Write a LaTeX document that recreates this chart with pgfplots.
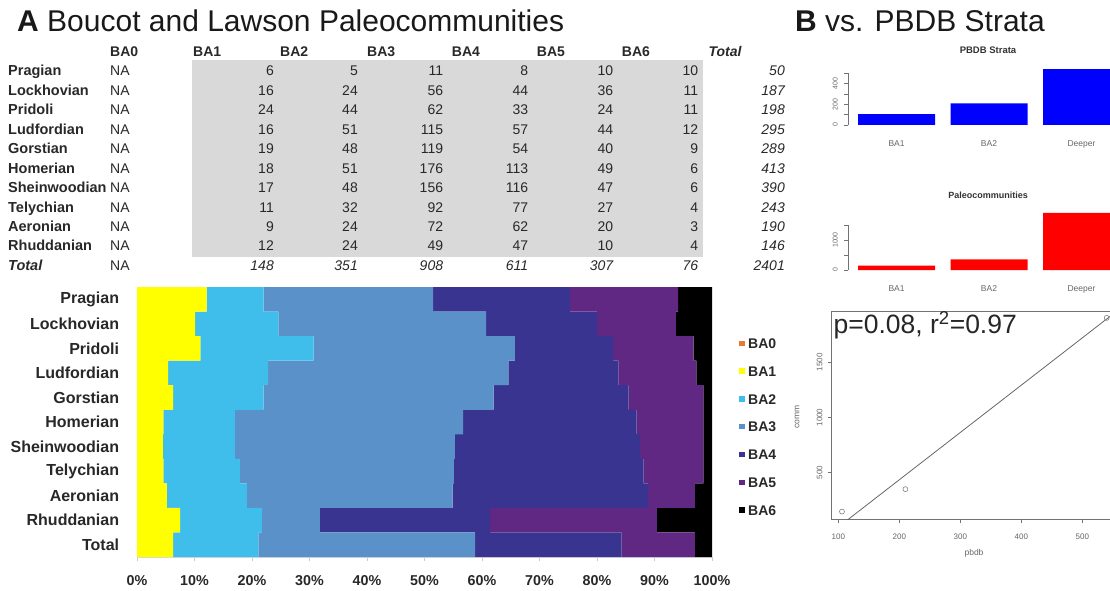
\documentclass[border=0pt]{standalone}
\usepackage{fontspec}
\setmainfont{Liberation Sans}
\usepackage{pgfplots}
\pgfplotsset{compat=1.18}

\definecolor{cBAzero}{RGB}{232,122,46}
\definecolor{cBAone}{RGB}{255,255,0}
\definecolor{cBAtwo}{RGB}{64,190,235}
\definecolor{cBAthree}{RGB}{90,145,200}
\definecolor{cBAfour}{RGB}{58,52,145}
\definecolor{cBAfive}{RGB}{96,40,130}
\definecolor{cBAsix}{RGB}{0,0,0}
\definecolor{tblgray}{RGB}{217,217,217}
\definecolor{txt}{RGB}{40,40,40}

\newcommand\fs[1]{\fontsize{#1}{#1}\selectfont}

\pgfplotsset{
  sqlegend/.style={legend image code/.code={\fill[##1] (0pt,-2.5pt) rectangle (5.5pt,3pt); \path (9pt,0pt);}},
}

\tikzset{
  lab/.style={anchor=base west, inner sep=0pt, font=\fs{14.5}\bfseries, text=txt},
  tv/.style={anchor=base east, inner sep=0pt, font=\fs{14}, text=txt},
  hd/.style={anchor=base west, inner sep=0pt, font=\fs{14}\bfseries, text=txt},
}

\newcommand\trow[9]{%
  \node[lab] at (8,#1) {#2};
  \node[tv,anchor=base west] at (110,#1) {NA};
  \node[tv] at (274,#1) {#3};
  \node[tv] at (358,#1) {#4};
  \node[tv] at (443.3,#1) {#5};
  \node[tv] at (528.3,#1) {#6};
  \node[tv] at (613.3,#1) {#7};
  \node[tv] at (698.3,#1) {#8};
  \node[tv] at (785,#1) {\itshape #9};
}

\begin{document}
\begin{tikzpicture}[x=1pt,y=1pt]
\useasboundingbox (0,0) rectangle (1110,590);
\clip (0,0) rectangle (1110,590);

% titles
\node[anchor=base west, inner sep=0pt, font=\fs{30}, text=black!90] at (17,558.3) {\textbf{A} Boucot and Lawson Paleocommunities};
\node[anchor=base west, inner sep=0pt, font=\fs{30}, text=black!90] at (795,558.3) {\textbf{B} vs. PBDB Strata};

% table
\fill[tblgray] (191.7,530) rectangle (703.3,332.7);
\node[hd] at (110,533.1) {BA0};
\node[hd] at (193,533.1) {BA1};
\node[hd] at (280,533.1) {BA2};
\node[hd] at (367,533.1) {BA3};
\node[hd] at (451.7,533.1) {BA4};
\node[hd] at (536.7,533.1) {BA5};
\node[hd] at (621.7,533.1) {BA6};
\node[hd] at (708.3,533.1) {\itshape Total};
\trow{514.1}{Pragian}{6}{5}{11}{8}{10}{10}{50}
\trow{494.65}{Lockhovian}{16}{24}{56}{44}{36}{11}{187}
\trow{475.2}{Pridoli}{24}{44}{62}{33}{24}{11}{198}
\trow{455.75}{Ludfordian}{16}{51}{115}{57}{44}{12}{295}
\trow{436.3}{Gorstian}{19}{48}{119}{54}{40}{9}{289}
\trow{416.85}{Homerian}{18}{51}{176}{113}{49}{6}{413}
\trow{397.4}{Sheinwoodian}{17}{48}{156}{116}{47}{6}{390}
\trow{377.95}{Telychian}{11}{32}{92}{77}{27}{4}{243}
\trow{358.5}{Aeronian}{9}{24}{72}{62}{20}{3}{190}
\trow{339.05}{Rhuddanian}{12}{24}{49}{47}{10}{4}{146}
\node[lab] at (8,319.6) {\itshape Total};
\node[tv,anchor=base west] at (110,319.6) {NA};
\node[tv] at (274,319.6) {\itshape 148};
\node[tv] at (358,319.6) {\itshape 351};
\node[tv] at (443.3,319.6) {\itshape 908};
\node[tv] at (528.3,319.6) {\itshape 611};
\node[tv] at (613.3,319.6) {\itshape 307};
\node[tv] at (698.3,319.6) {\itshape 76};
\node[tv] at (785,319.6) {\itshape 2401};

% main stacked bar chart
\begin{axis}[at={(137pt,33pt)}, anchor=south west, scale only axis,
  width=575pt, height=270pt,
  xbar stacked, bar width=24.6pt,
  xmin=0, xmax=100, ymin=-0.5, ymax=10.5,
  xtick={0,10,...,100},
  xticklabels={0\%,10\%,20\%,30\%,40\%,50\%,60\%,70\%,80\%,90\%,100\%},
  ytick={0,...,10},
  yticklabels={Total,Rhuddanian,Aeronian,Telychian,Sheinwoodian,Homerian,Gorstian,Ludfordian,Pridoli,Lockhovian,Pragian},
  axis x line*=bottom, axis y line*=left,
  axis line style={draw=gray!30, line width=0.8pt},
  x tick style={draw=gray!40, line width=0.8pt}, y tick style={draw=none},
  tick align=outside, major tick length=4pt,
  xticklabel style={font=\fs{14.3}\bfseries, text=txt, inner sep=0pt, anchor=center, yshift=-20pt},
  yticklabel style={font=\fs{16}\bfseries, text=txt, inner sep=0pt, anchor=east, xshift=-13.7pt},
  legend style={at={(1.047,0.81)}, anchor=north west, draw=none, fill=none, inner sep=0pt,
    row sep=17.8pt, font=\fs{14}\bfseries, text=txt,
    nodes={inner sep=0pt, text height=10pt, text depth=0pt}},
  legend cell align=left,
]
\addplot[fill=cBAzero, draw=none, sqlegend] coordinates {(0,10) (0,9) (0,8) (0,7) (0,6) (0,5) (0,4) (0,3) (0,2) (0,1) (0,0)};
\addplot[fill=cBAone, draw=none, sqlegend] coordinates {(12.1,10) (10.1,9) (11.0,8) (5.4,7) (6.3,6) (4.6,5) (4.5,4) (4.6,3) (5.2,2) (7.5,1) (6.3,0)};
\addplot[fill=cBAtwo, draw=none, sqlegend] coordinates {(9.9,10) (14.5,9) (19.7,8) (17.4,7) (15.7,6) (12.4,5) (12.5,4) (13.3,3) (13.9,2) (14.2,1) (14.8,0)};
\addplot[fill=cBAthree, draw=none, sqlegend] coordinates {(29.5,10) (36.1,9) (35.0,8) (41.8,7) (40.0,6) (39.7,5) (38.3,4) (37.2,3) (35.8,2) (10.1,1) (37.7,0)};
\addplot[fill=cBAfour, draw=none, sqlegend] coordinates {(23.8,10) (19.3,9) (17.1,8) (19.1,7) (23.5,6) (30.2,5) (32.2,4) (33.0,3) (34.0,2) (29.6,1) (25.5,0)};
\addplot[fill=cBAfive, draw=none, sqlegend] coordinates {(18.8,10) (13.7,9) (14.0,8) (13.6,7) (13.0,6) (11.6,5) (11.0,4) (10.4,3) (8.1,2) (29.0,1) (12.7,0)};
\addplot[fill=cBAsix, draw=none, sqlegend] coordinates {(5.9,10) (6.3,9) (3.2,8) (2.7,7) (1.5,6) (1.5,5) (1.5,4) (1.5,3) (3.0,2) (9.6,1) (3.0,0)};
\legend{BA0,BA1,BA2,BA3,BA4,BA5,BA6}
\end{axis}

% PBDB Strata mini bar chart
\node[font=\fs{9.5}\bfseries, text=black!80, inner sep=0pt] at (988,540) {PBDB Strata};
\begin{axis}[at={(848pt,465pt)}, anchor=south west, scale only axis,
  width=262pt, height=56.3pt,
  xmin=0.07, xmax=3.47, ymin=0, ymax=545,
  axis x line*=bottom, axis y line*=left,
  x axis line style={draw=none}, y axis line style={draw=none},
  x tick style={draw=none}, y tick style={draw=black!55, line width=0.7pt},
  tick align=outside, major tick length=4pt,
  xtick={0.7,1.9,3.1}, xticklabels={BA1,BA2,Deeper},
  ytick={0,100,...,500}, yticklabels={0,,200,,400,},
  xticklabel style={font=\fs{8.5}, text=black!60, anchor=center, inner sep=0pt, yshift=-15pt},
  yticklabel style={xshift=-6pt, font=\fs{7}, text=black!60, rotate=90, anchor=south, inner sep=0pt},
]
\draw[black!55, line width=0.7pt] (axis cs:0.07,0) -- (axis cs:0.07,500);
\addplot[ybar, bar width=77pt, fill=blue, draw=none] coordinates {(0.7,106) (1.9,210) (3.1,540)};
\end{axis}

% Paleocommunities mini bar chart
\node[font=\fs{9}\bfseries, text=black!80, inner sep=0pt] at (988,395) {Paleocommunities};
\begin{axis}[at={(848pt,320pt)}, anchor=south west, scale only axis,
  width=262pt, height=57.3pt,
  xmin=0.07, xmax=3.47, ymin=0, ymax=1910,
  axis x line*=bottom, axis y line*=left,
  x axis line style={draw=none}, y axis line style={draw=none},
  x tick style={draw=none}, y tick style={draw=black!55, line width=0.7pt},
  tick align=outside, major tick length=4pt,
  xtick={0.7,1.9,3.1}, xticklabels={BA1,BA2,Deeper},
  ytick={0,500,1000,1500}, yticklabels={0,,1000,},
  xticklabel style={font=\fs{8.5}, text=black!60, anchor=center, inner sep=0pt, yshift=-15pt},
  yticklabel style={xshift=-6pt, font=\fs{7}, text=black!60, rotate=90, anchor=south, inner sep=0pt},
]
\draw[black!55, line width=0.7pt] (axis cs:0.07,0) -- (axis cs:0.07,1500);
\addplot[ybar, bar width=77pt, fill=red, draw=none] coordinates {(0.7,148) (1.9,351) (3.1,1902)};
\end{axis}

% scatter
\begin{axis}[at={(831.7pt,70.7pt)}, anchor=south west, scale only axis,
  width=285.6pt, height=207.6pt,
  xmin=89.2, xmax=557.4, ymin=78, ymax=1958,
  axis line style={draw=black!55, line width=0.9pt},
  tick style={draw=black!55, line width=0.7pt},
  tick pos=left, tick align=outside, major tick length=4pt,
  xtick={100,200,300,400,500}, xticklabels={100,200,300,400,500},
  ytick={500,1000,1500}, yticklabels={500,1000,1500},
  xticklabel style={font=\fs{8}, text=black!60, inner sep=0pt, anchor=center, yshift=-13.7pt},
  yticklabel style={xshift=-5pt, font=\fs{8}, text=black!60, rotate=90, anchor=south, inner sep=0pt},
]
\addplot[black!60, line width=0.8pt] coordinates {(80,-78) (560,1978)};
\addplot[only marks, mark=o, mark size=2.5pt, draw=black!50, line width=0.6pt] coordinates {(106,148) (210,351) (540,1902)};
\node[anchor=base west, inner sep=0pt, font=\fs{26.5}, text=black!85] at (rel axis cs:0.006,0.896) {p=0.08, r\textsuperscript{2}=0.97};
\end{axis}
\node[font=\fs{8.5}, text=black!60] at (974,37) {pbdb};
\node[font=\fs{8.5}, text=black!60, rotate=90] at (797,173) {comm};

\end{tikzpicture}
\end{document}
